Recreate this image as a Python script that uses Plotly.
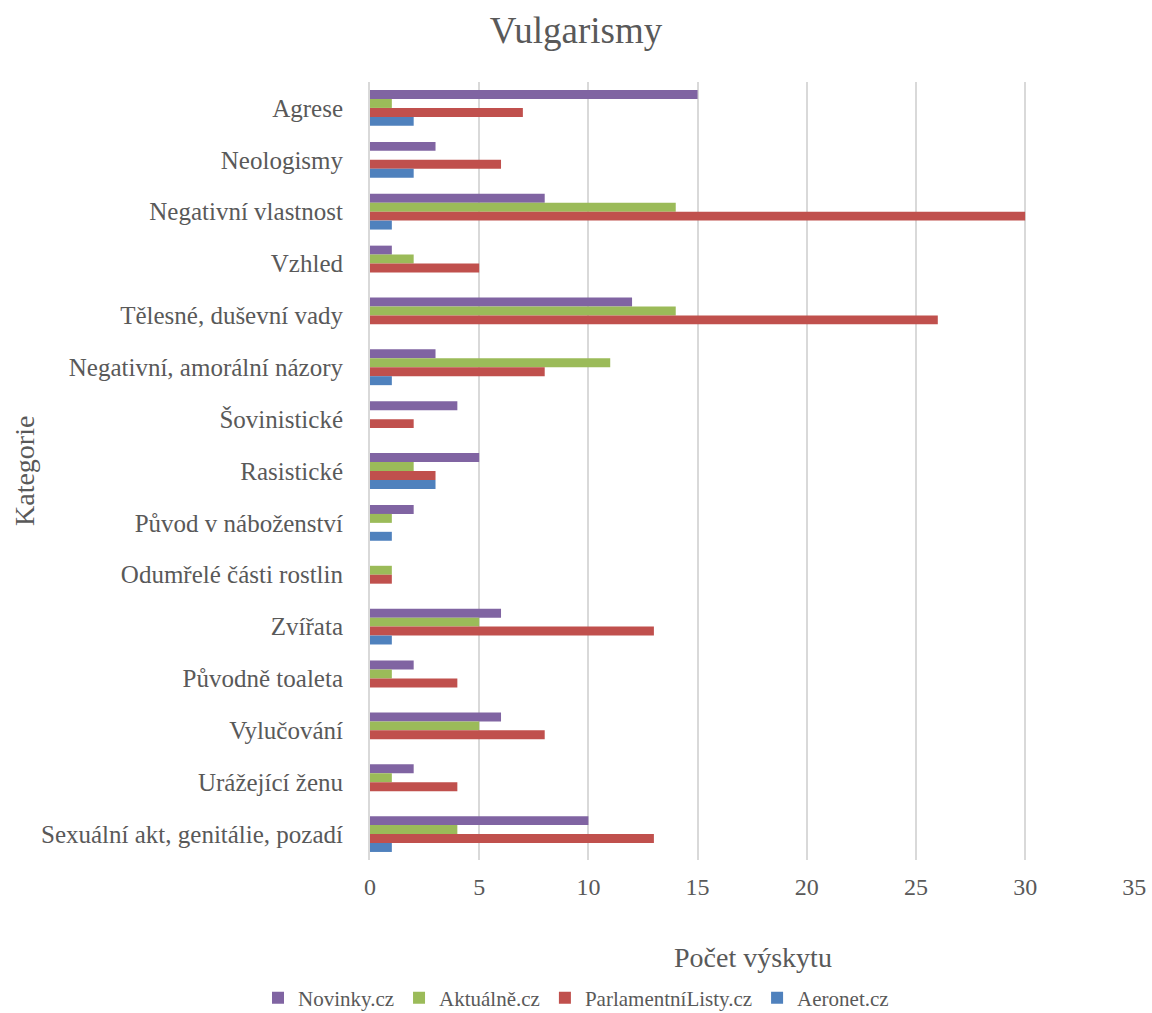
import plotly.graph_objects as go

categories = ["Agrese", "Neologismy", "Negativní vlastnost", "Vzhled",
              "Tělesné, duševní vady", "Negativní, amorální názory", "Šovinistické",
              "Rasistické", "Původ v náboženství", "Odumřelé části rostlin", "Zvířata",
              "Původně toaleta", "Vylučování", "Urážející ženu",
              "Sexuální akt, genitálie, pozadí"]

novinky = [15, 3, 8, 1, 12, 3, 4, 5, 2, 0, 6, 2, 6, 2, 10]
aktualne = [1, 0, 14, 2, 14, 11, 0, 2, 1, 1, 5, 1, 5, 1, 4]
parlamentni = [7, 6, 30, 5, 26, 8, 2, 3, 0, 1, 13, 4, 8, 4, 13]
aeronet = [2, 2, 1, 0, 0, 1, 0, 3, 1, 0, 1, 0, 0, 0, 1]

series_names = ["Novinky.cz", "Aktuálně.cz", "ParlamentníListy.cz", "Aeronet.cz"]
series_values = [novinky, aktualne, parlamentni, aeronet]
colors = ["#8064A2", "#9BBB59", "#C0504D", "#4F81BD"]

FONT = "Liberation Serif"
TXT = "#595959"

fig = go.Figure()
for name, vals, col in zip(series_names, series_values, colors):
    fig.add_trace(go.Bar(y=categories, x=vals, name=name, orientation="h",
                         marker=dict(color=col, line=dict(width=0))))

fig.update_layout(
    width=1152, height=1013,
    margin=dict(l=370, r=17, t=82, b=153, autoexpand=False),
    paper_bgcolor="white", plot_bgcolor="white",
    barmode="group", bargap=0.31, bargroupgap=0,
    font=dict(family=FONT, color=TXT, size=20),
    title=dict(text="Vulgarismy", x=0.5, xanchor="center", y=1 - 30 / 1013,
               yanchor="middle", yref="container", font=dict(size=37, color=TXT, family=FONT)),
    xaxis=dict(range=[0, 35.03], dtick=5, showgrid=True, gridcolor="#D9D9D9", gridwidth=2,
               zeroline=False, showline=False, ticks="", ticklabelstandoff=10,
               tickfont=dict(size=24, color=TXT, family=FONT), fixedrange=True),
    yaxis=dict(autorange="reversed", showgrid=False, showline=True, linecolor="#D9D9D9",
               linewidth=2, ticks="", ticklabelstandoff=20,
               tickfont=dict(size=25, color=TXT, family=FONT), fixedrange=True),
    legend=dict(orientation="h", x=0.5, xanchor="center", xref="container",
                y=15 / 1013, yanchor="middle", yref="container",
                font=dict(size=21, color=TXT, family=FONT),
                traceorder="normal", itemwidth=30),
    showlegend=True,
    annotations=[
        dict(text="Počet výskytu", xref="paper", yref="paper", x=0.5, y=0,
             yshift=-97, xanchor="center", yanchor="middle", showarrow=False,
             font=dict(size=28, color=TXT, family=FONT)),
        dict(text="Kategorie", xref="paper", yref="paper", x=0, y=0.5,
             xshift=-346, xanchor="center", yanchor="middle", textangle=-90,
             showarrow=False, font=dict(size=28, color=TXT, family=FONT)),
    ],
)

fig.write_html("out.html")
